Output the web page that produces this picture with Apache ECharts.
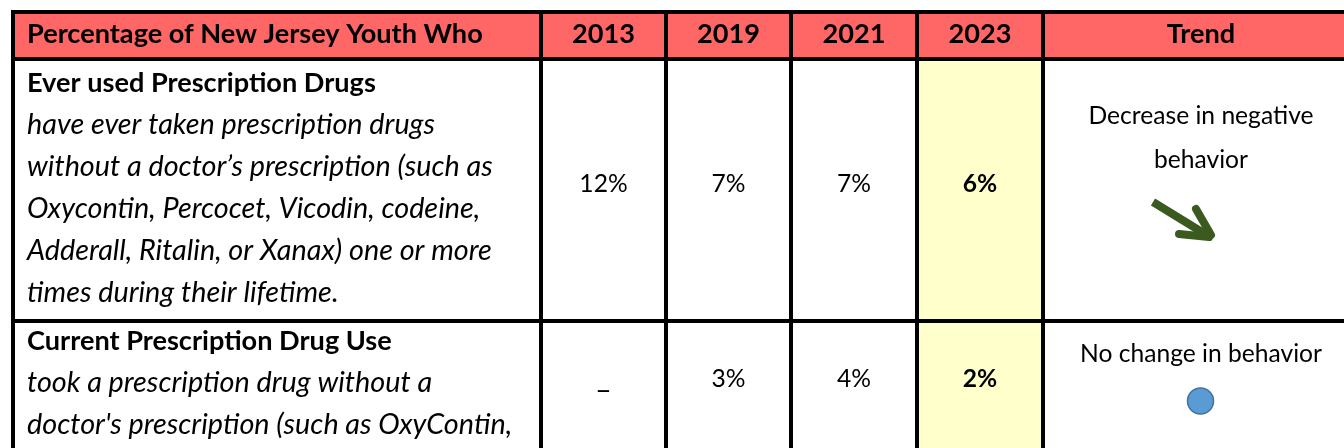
<!DOCTYPE html>
<html><head><meta charset="utf-8">
<script src="https://cdn.jsdelivr.net/npm/echarts@6/dist/echarts.min.js"></script>
<style>html,body{margin:0;padding:0;background:#fff}#c{width:1344px;height:448px}</style>
</head><body><div id="c"></div>
<script>
// ---------- data ----------
const headerLabel = 'Percentage of New Jersey Youth Who';
const years = ['2013', '2019', '2021', '2023'];
const trendHeader = 'Trend';
const indicators = ['Ever used Prescription Drugs', 'Current Prescription Drug Use'];
const descriptions = [
  ['have ever taken prescription drugs',
   'without a doctor\u2019s prescription (such as',
   'Oxycontin, Percocet, Vicodin, codeine,',
   'Adderall, Ritalin, or Xanax) one or more',
   'times during their lifetime.'],
  ['took a prescription drug without a',
   "doctor's prescription (such as OxyContin,"]
];
const values = [
  [12, 7, 7, 6],
  [null, 3, 4, 2]
];
const missingLabel = '\u2013';
const trendText = [['Decrease in negative', 'behavior'], ['No change in behavior']];
const trendIcon = ['down', 'same'];

// ---------- layout / style ----------
const FONT = 'Lato, "Open Sans", sans-serif';
const colEdges = [13, 541, 666, 791, 917, 1043, 1362];
const rowEdges = [12, 59, 321, 640];
const highlightCol = 4;
const headerTextY = 34;
const bodyFirstLineY = [83, 341];
const bodyLineStep = 42;
const valueY = [184, 379];
const trendLineY = [[116, 160], [354]];
const iconPos = [[1182, 220], [1200.5, 401]];
const textLeft = 27;
const trendCenterX = 1201;
const COLORS = {header: '#FF6666', highlight: '#FFFFCC', body: '#FFFFFF', line: '#000000',
  arrow: '#3A5A1F', dot: '#5B9BD5', dotBorder: '#41719C', text: '#000000'};

function fit(text, weight, style, target) {
  const ctx = document.createElement('canvas').getContext('2d');
  ctx.font = style + ' ' + weight + ' 100px ' + FONT;
  return 100 * target / ctx.measureText(text).width;
}
const boldSize = fit(headerLabel, 'bold', 'normal', 456);
const italicSize = fit('without a doctor\u2019s prescription (such as', 'normal', 'italic', 466);
const regSize = fit('No change in behavior', 'normal', 'normal', 242);

// ---------- build series data ----------
const cells = [];
for (let r = 0; r < 3; r++) for (let c = 0; c < 6; c++) cells.push([c, r]);

const headerTexts = [headerLabel].concat(years, [trendHeader]);
const textItems = [];
headerTexts.forEach((t, c) => textItems.push({value: [c, 0], kind: 'header', text: t}));
indicators.forEach((t, i) => textItems.push({value: [0, i + 1], kind: 'body', text: t, lines: descriptions[i]}));

const valueItems = [];
values.forEach((row, i) => row.forEach((v, j) => valueItems.push({value: [j + 1, i + 1, v]})));

const trendItems = trendText.map((lines, i) => ({value: [5, i + 1], lines: lines, icon: trendIcon[i]}));

function cellRect(api, c, r) {
  const p0 = api.coord([colEdges[c], rowEdges[r]]);
  const p1 = api.coord([colEdges[c + 1], rowEdges[r + 1]]);
  return {x: p0[0], y: p0[1], width: p1[0] - p0[0], height: p1[1] - p0[1]};
}
function P(api, x, y) { return api.coord([x, y]); }

const option = {
  animation: false,
  grid: {left: 0, top: 0, right: 0, bottom: 0},
  xAxis: {type: 'value', min: 0, max: 1344, show: false},
  yAxis: {type: 'value', min: 0, max: 448, inverse: true, show: false},
  series: [
    {
      type: 'custom', name: 'cells', data: cells, z: 1,
      renderItem: function (params, api) {
        const c = api.value(0), r = api.value(1);
        const fill = r === 0 ? COLORS.header : (c === highlightCol ? COLORS.highlight : COLORS.body);
        return {type: 'rect', shape: cellRect(api, c, r),
          style: {fill: fill, stroke: COLORS.line, lineWidth: 4}};
      }
    },
    {
      type: 'custom', name: 'labels', data: textItems, z: 3,
      renderItem: function (params, api) {
        const item = textItems[params.dataIndex];
        const c = api.value(0), r = api.value(1);
        const rc = cellRect(api, c, r);
        if (item.kind === 'header') {
          const x = c === 0 ? P(api, textLeft, 0)[0] : rc.x + rc.width / 2;
          const cx = c === 5 ? P(api, trendCenterX, 0)[0] : x;
          return {type: 'text', style: {text: item.text, x: cx, y: P(api, 0, headerTextY)[1],
            fill: COLORS.text, font: 'bold ' + boldSize + 'px ' + FONT,
            align: c === 0 ? 'left' : 'center', verticalAlign: 'middle'}};
        }
        const children = [];
        const y0 = bodyFirstLineY[r - 1];
        const x = P(api, textLeft, 0)[0];
        children.push({type: 'text', style: {text: item.text, x: x, y: P(api, 0, y0)[1],
          fill: COLORS.text, font: 'bold ' + boldSize + 'px ' + FONT, align: 'left', verticalAlign: 'middle'}});
        item.lines.forEach((ln, k) => children.push({type: 'text', style: {text: ln, x: x,
          y: P(api, 0, y0 + (k + 1) * bodyLineStep)[1], fill: COLORS.text,
          font: 'italic normal ' + italicSize + 'px ' + FONT, align: 'left', verticalAlign: 'middle'}}));
        return {type: 'group', children: children};
      }
    },
    {
      type: 'custom', name: 'values', data: valueItems, z: 3,
      renderItem: function (params, api) {
        const c = api.value(0), r = api.value(1), v = values[r - 1][c - 1];
        const rc = cellRect(api, c, r);
        const isMissing = v === null || v === undefined;
        const txt = isMissing ? missingLabel : v + '%';
        const bold = c === highlightCol;
        return {type: 'text', style: {text: txt, x: rc.x + rc.width / 2,
          y: P(api, 0, valueY[r - 1] + (isMissing ? 12 : 0))[1], fill: COLORS.text,
          font: (bold ? 'bold ' : 'normal ') + (isMissing ? regSize * 1.15 : regSize) + 'px ' + FONT,
          align: 'center', verticalAlign: 'middle'}};
      }
    },
    {
      type: 'custom', name: 'trend', data: trendItems, z: 3,
      renderItem: function (params, api) {
        const item = trendItems[params.dataIndex];
        const r = api.value(1);
        const children = [];
        const cx = P(api, trendCenterX, 0)[0];
        item.lines.forEach((ln, k) => children.push({type: 'text', style: {text: ln, x: cx,
          y: P(api, 0, trendLineY[r - 1][k])[1], fill: COLORS.text,
          font: 'normal ' + regSize + 'px ' + FONT, align: 'center', verticalAlign: 'middle'}}));
        const ip = P(api, iconPos[r - 1][0], iconPos[r - 1][1]);
        if (item.icon === 'down') {
          const tip = [ip[0] + 31, ip[1] + 19];
          children.push({type: 'polyline', shape: {points: [[ip[0] - 29, ip[1] - 18], [tip[0] - 3, tip[1] - 2]]},
            style: {stroke: COLORS.arrow, lineWidth: 8, lineCap: 'butt', fill: null}});
          children.push({type: 'polyline', shape: {points: [[ip[0] + 14, ip[1] - 11], [tip[0] - 2, tip[1] - 4]]},
            style: {stroke: COLORS.arrow, lineWidth: 8, lineCap: 'round', fill: null}});
          children.push({type: 'polyline', shape: {points: [[ip[0] - 3, ip[1] + 14], [tip[0] - 4, tip[1] - 2]]},
            style: {stroke: COLORS.arrow, lineWidth: 8, lineCap: 'round', fill: null}});
        } else {
          children.push({type: 'circle', shape: {cx: ip[0], cy: ip[1], r: 13},
            style: {fill: COLORS.dot, stroke: COLORS.dotBorder, lineWidth: 1.5}});
        }
        return {type: 'group', children: children};
      }
    }
  ]
};
const chart = echarts.init(document.getElementById('c'), null, {renderer: 'canvas'});
chart.setOption(option);
</script></body></html>
